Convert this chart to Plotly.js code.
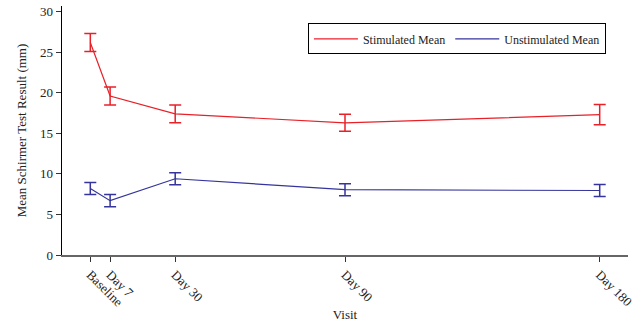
<!DOCTYPE html>
<html><head><meta charset="utf-8">
<script src="https://cdn.plot.ly/plotly-3.0.1.min.js"></script>
<style>body{margin:0;padding:0;background:#fff}#chart{width:644px;height:322px}</style>
</head><body><div id="chart"></div>
<script>
const visitDays = [0, 7, 30, 90, 180];
const visitLabels = ["Baseline", "Day 7", "Day 30", "Day 90", "Day 180"];
const stimulatedMean = [26.2, 19.6, 17.4, 16.3, 17.3];
const stimulatedErr = [1.1, 1.1, 1.1, 1.05, 1.25];
const unstimulatedMean = [8.2, 6.7, 9.4, 8.05, 7.95];
const unstimulatedErr = [0.75, 0.75, 0.75, 0.75, 0.75];

const red = "rgb(232,32,40)";
const blue = "rgb(52,52,156)";
const font = "'Liberation Serif', 'Times New Roman', serif";

const traces = [
  {x: visitDays, y: stimulatedMean, name: "Stimulated Mean", type: "scatter", mode: "lines",
   line: {color: red, width: 1.2},
   error_y: {type: "data", array: stimulatedErr, visible: true, color: red, thickness: 1.5, width: 6}},
  {x: visitDays, y: unstimulatedMean, name: "Unstimulated Mean", type: "scatter", mode: "lines",
   line: {color: blue, width: 1.2},
   error_y: {type: "data", array: unstimulatedErr, visible: true, color: blue, thickness: 1.5, width: 6}}
];

const layout = {
  width: 644, height: 322,
  margin: {l: 62, r: 16, t: 6, b: 67},
  paper_bgcolor: "#fff", plot_bgcolor: "#fff",
  font: {family: font, size: 13, color: "#222"},
  showlegend: true,
  legend: {orientation: "h", x: 0.961, xanchor: "right", y: 0.93, yanchor: "top",
    bordercolor: "#000", borderwidth: 1, bgcolor: "#fff",
    font: {family: font, size: 12, color: "#222"}, itemwidth: 44},
  xaxis: {
    range: [-10, 190], tickmode: "array", tickvals: visitDays, ticktext: visitLabels,
    tickangle: 45, ticks: "outside", ticklen: 5, tickcolor: "#333",
    showline: true, linecolor: "#666", linewidth: 2, showgrid: false, zeroline: false,
    title: {text: "Visit", font: {family: font, size: 13}, standoff: 8},
    tickfont: {family: font, size: 13}
  },
  yaxis: {
    range: [0, 30.7], tickvals: [0, 5, 10, 15, 20, 25, 30],
    ticks: "outside", ticklen: 5, tickcolor: "#333",
    showline: true, linecolor: "#000", linewidth: 1.5, showgrid: false, zeroline: false,
    title: {text: "Mean Schirmer Test Result (mm)", font: {family: font, size: 13}, standoff: 10},
    tickfont: {family: font, size: 13}
  }
};

Plotly.newPlot("chart", traces, layout, {displayModeBar: false, staticPlot: true});
</script></body></html>
